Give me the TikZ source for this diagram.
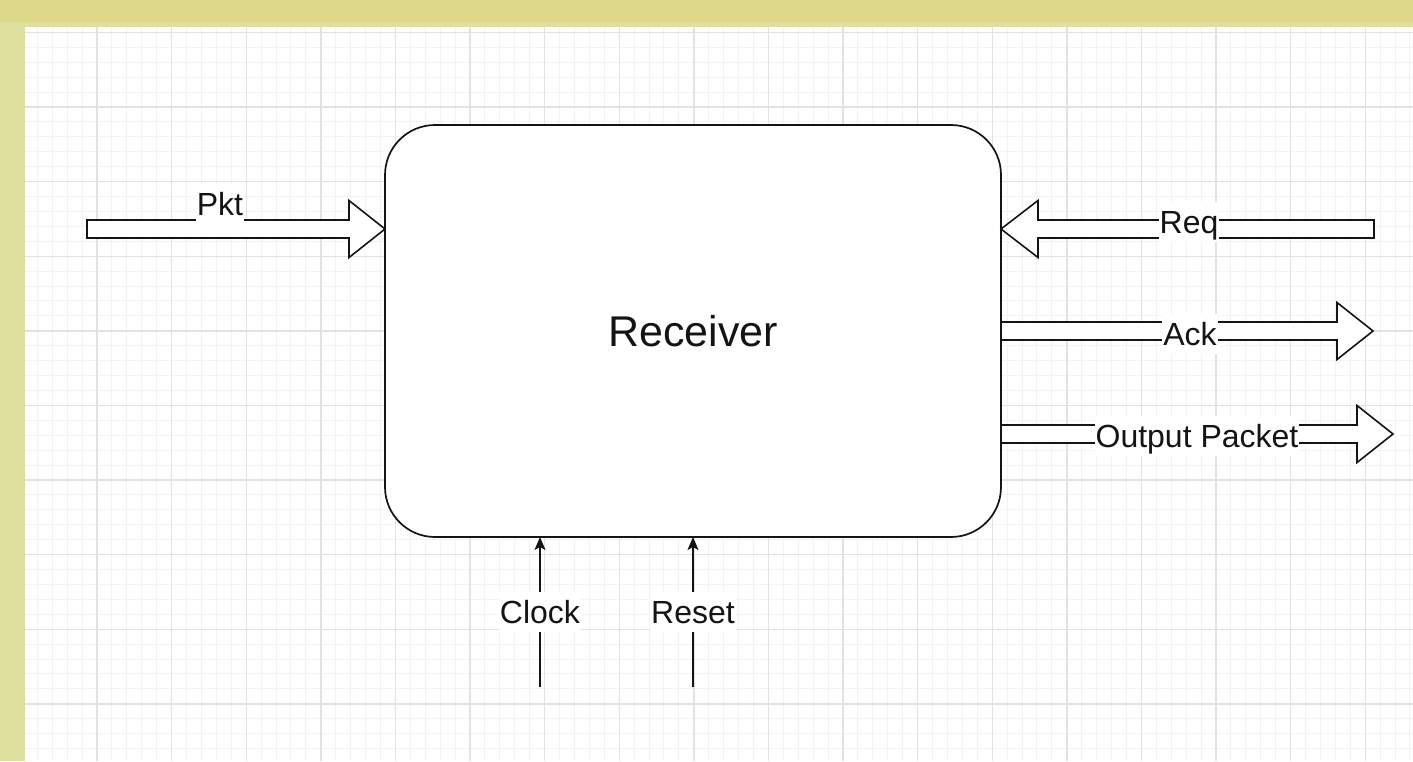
\documentclass[tikz,border=0pt]{standalone}
\usepackage{fontspec}
\setmainfont{Liberation Sans}
\usetikzlibrary{calc,arrows.meta}
\definecolor{ytop}{RGB}{222,217,137}
\definecolor{yside}{RGB}{223,223,158}
\definecolor{gminor}{RGB}{243,243,243}
\definecolor{gmajor}{RGB}{226,226,226}
\definecolor{ink}{RGB}{20,20,20}
\tikzset{
  blk/.style={draw=ink, line width=1.6pt, fill=white, line join=miter},
  lbl/.style={fill=white, inner xsep=1pt, inner ysep=2pt, text height=29pt, text depth=7pt,
    anchor=base, font=\fontsize{32}{38}\selectfont, text=ink},
  sig/.style={draw=ink, line width=1.6pt, -{Stealth[length=13pt,width=11pt,inset=3pt]}},
  recv/.style={draw=ink, line width=1.7pt, fill=white, rounded corners=50pt,
    minimum width=616pt, minimum height=412pt, outer sep=0pt,
    font=\fontsize{43}{50}\selectfont, text=ink},
}
\newcommand\blockarr[3]{\draw[blk] ($(#1)+(0,-9)$) -- ($(#2)+(#3,-9)$) -- ($(#2)+(#3,-28.5)$) -- (#2) -- ($(#2)+(#3,28.5)$) -- ($(#2)+(#3,9)$) -- ($(#1)+(0,9)$) -- cycle;}
\begin{document}
\begin{tikzpicture}[x=1pt,y=-1pt]
\useasboundingbox (0,0) rectangle (1413,761);
\fill[yside] (0,0) rectangle (1413,761);
\fill[ytop] (0,0) rectangle (1413,22);
\fill[white] (25,27) rectangle (1413,761);
\begin{scope}
  \clip (25,27) rectangle (1413,761);
  \foreach \i in {-5,...,88} \draw[gminor, line width=1pt] ({97+14.92*\i},27) -- ({97+14.92*\i},761);
  \foreach \j in {-6,...,44} \draw[gminor, line width=1pt] (25,{107+14.92*\j}) -- (1413,{107+14.92*\j});
  \foreach \i in {-1,...,18} \draw[gmajor, line width=1.4pt] ({97+74.6*\i},27) -- ({97+74.6*\i},761);
  \foreach \j in {-1,...,9} \draw[gmajor, line width=1.4pt] (25,{107+74.6*\j}) -- (1413,{107+74.6*\j});
\end{scope}

\node[recv] (rx) at (693,331) {Receiver};

% Pkt
\coordinate (pkt0) at (87,229);
\coordinate (pkt1) at (rx.west |- pkt0);
\blockarr{pkt0}{pkt1}{-36}
\node[lbl] (pktl) at (220,215) {Pkt};

% Req
\coordinate (req0) at (1374,229);
\coordinate (req1) at (rx.east |- req0);
\blockarr{req0}{req1}{37}
\node[lbl] (reql) at (1189,233) {Req};

% Ack
\coordinate (ack1) at (1373,331);
\coordinate (ack0) at (rx.east |- ack1);
\blockarr{ack0}{ack1}{-36}
\node[lbl] (ackl) at (1190,345) {Ack};

% Output Packet
\coordinate (out1) at (1393,434);
\coordinate (out0) at (rx.east |- out1);
\blockarr{out0}{out1}{-36}
\node[lbl] (outl) at (1197,447) {Output Packet};

% Clock / Reset
\coordinate (clk0) at (540,687);
\draw[sig] (clk0) -- (clk0 |- rx.south);
\node[lbl] (clkl) at (540,623) {Clock};
\coordinate (rst0) at (693,687);
\draw[sig] (rst0) -- (rst0 |- rx.south);
\node[lbl] (rstl) at (693,623) {Reset};
\end{tikzpicture}
\end{document}
